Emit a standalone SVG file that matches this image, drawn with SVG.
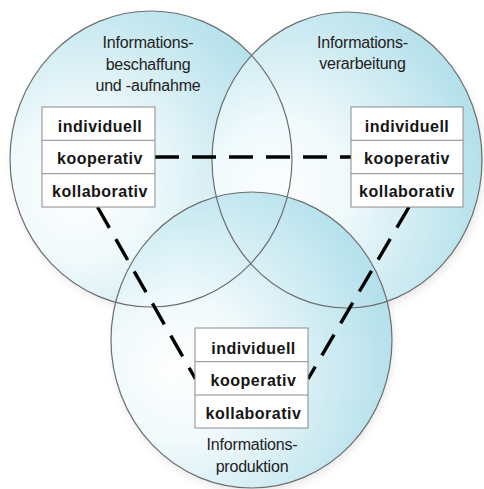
<svg xmlns="http://www.w3.org/2000/svg" width="484" height="489" viewBox="0 0 484 489">
  <defs>
    <radialGradient id="g" cx="0.3" cy="0.6" r="0.8" fx="0.22" fy="0.6">
      <stop offset="0" stop-color="#ffffff"/>
      <stop offset="0.3" stop-color="#f2fbfd"/>
      <stop offset="1" stop-color="#a6dbe8"/>
    </radialGradient>
    <filter id="sh" x="-20%" y="-20%" width="140%" height="140%">
      <feGaussianBlur stdDeviation="4"/>
    </filter>
  </defs>
  <style>
    .fill { fill: url(#g); fill-opacity: 0.94; }
    .edge { fill: none; stroke: #6e6e6e; stroke-width: 1.2; }
    .shadow { fill: #000; opacity: 0.09; filter: url(#sh); }
    .box { fill: #ffffff; stroke: #8a8a8a; stroke-width: 1; }
    .sep { stroke: #8a8a8a; stroke-width: 1; }
    .item { font-family: "Liberation Sans", Arial, sans-serif; font-weight: bold; font-size: 16px; letter-spacing: 0.5px; fill: #151515; text-anchor: middle; }
    .title { font-family: "Liberation Sans", Arial, sans-serif; font-size: 16px; fill: #222222; text-anchor: middle; letter-spacing: -0.2px; }
    .dash { fill: none; stroke: #000000; stroke-width: 3.4; stroke-dasharray: 24 13; }
  </style>
  <rect width="484" height="489" fill="#ffffff"/>

  <g id="circles">
    <ellipse class="shadow" cx="153" cy="163" rx="141" ry="148"/>
    <ellipse class="shadow" cx="349" cy="164" rx="135" ry="148"/>
    <ellipse class="shadow" cx="253" cy="344" rx="140.5" ry="148"/>
    <ellipse class="fill" cx="151" cy="159" rx="141" ry="148"/>
    <ellipse class="fill" cx="347" cy="160" rx="135" ry="148"/>
    <ellipse class="fill" cx="251.5" cy="340" rx="140.5" ry="148"/>
    <ellipse class="edge" cx="151" cy="159" rx="141" ry="148"/>
    <ellipse class="edge" cx="347" cy="160" rx="135" ry="148"/>
    <ellipse class="edge" cx="251.5" cy="340" rx="140.5" ry="148"/>
  </g>

  <g id="connectors">
    <line class="dash" x1="155" y1="157" x2="351" y2="157"/>
    <line class="dash" x1="97.5" y1="207" x2="195.5" y2="379"/>
    <line class="dash" x1="409" y1="207" x2="308" y2="379"/>
  </g>

  <g id="node-beschaffung">
    <text class="title" x="148" y="47.5">Informations-</text>
    <text class="title" x="148" y="69.5">beschaffung</text>
    <text class="title" x="148" y="91">und -aufnahme</text>
    <rect class="box" x="42" y="107" width="113" height="100"/>
    <line class="sep" x1="42" y1="140.3" x2="155" y2="140.3"/>
    <line class="sep" x1="42" y1="173.7" x2="155" y2="173.7"/>
    <text class="item" x="100" y="131.7">individuell</text>
    <text class="item" x="100" y="164">kooperativ</text>
    <text class="item" x="100" y="197">kollaborativ</text>
  </g>

  <g id="node-verarbeitung">
    <text class="title" x="362.5" y="47.5">Informations-</text>
    <text class="title" x="362.5" y="69">verarbeitung</text>
    <rect class="box" x="351" y="107" width="112" height="100"/>
    <line class="sep" x1="351" y1="140.3" x2="463" y2="140.3"/>
    <line class="sep" x1="351" y1="173.7" x2="463" y2="173.7"/>
    <text class="item" x="407" y="131.7">individuell</text>
    <text class="item" x="407" y="164">kooperativ</text>
    <text class="item" x="407" y="197">kollaborativ</text>
  </g>

  <g id="node-produktion">
    <rect class="box" x="195" y="328" width="113" height="100"/>
    <line class="sep" x1="195" y1="361.7" x2="308" y2="361.7"/>
    <line class="sep" x1="195" y1="395" x2="308" y2="395"/>
    <text class="item" x="253.5" y="353.5">individuell</text>
    <text class="item" x="253.5" y="386">kooperativ</text>
    <text class="item" x="253.5" y="419">kollaborativ</text>
    <text class="title" x="252" y="450">Informations-</text>
    <text class="title" x="252" y="471.5">produktion</text>
  </g>
</svg>
